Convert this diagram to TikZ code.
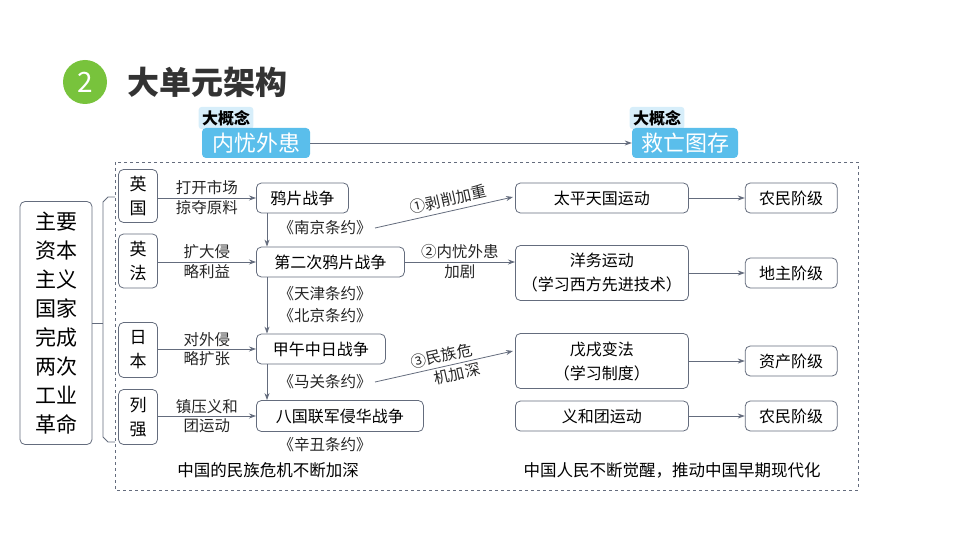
\documentclass[tikz,border=0pt]{standalone}
\usepackage{fontspec}
\setmainfont{Noto Sans CJK SC}
\usetikzlibrary{arrows.meta}
\usetikzlibrary{calc}
\definecolor{linegray}{RGB}{100,108,125}
\definecolor{tagblue}{RGB}{90,190,235}
\definecolor{taglight}{RGB}{215,238,250}
\definecolor{titlegreen}{RGB}{120,195,60}
\begin{document}
\begin{tikzpicture}
	[x=1pt,y=-1pt,
	 box/.style={draw=linegray, rounded corners=5pt, line width=0.8pt, font=\fontsize{16}{19}\selectfont, align=center, inner sep=0pt},
	 lbl/.style={font=\fontsize{15.5}{17}\selectfont, align=center, text=black!85},
	 arr/.style={-{Stealth[length=7pt,width=5pt]}, draw=linegray, line width=0.8pt}]

	\useasboundingbox (0,0) rectangle (960,540);

	%Title
	\node[circle, fill=titlegreen, minimum size=44pt, text=white, font=\fontsize{28}{28}\selectfont] (num) at (85,82) {2};
	\node[anchor=west, font=\fontsize{32}{32}\selectfont\bfseries, text=black!80] (title) at (124,82) {大单元架构};

	%Big concepts
	\node[fill=taglight, rounded corners=3pt, minimum width=48pt, minimum height=21pt, font=\fontsize{16}{16}\selectfont\bfseries] (tagA) at (226,118) {大概念};
	\node[fill=tagblue, rounded corners=4pt, minimum width=108pt, minimum height=30pt, text=white, font=\fontsize{22}{22}\selectfont] (conA) at (256,143) {内忧外患};
	\node[fill=taglight, rounded corners=3pt, minimum width=50pt, minimum height=21pt, font=\fontsize{16}{16}\selectfont\bfseries] (tagB) at (657,118) {大概念};
	\node[fill=tagblue, rounded corners=4pt, minimum width=106pt, minimum height=30pt, text=white, font=\fontsize{22}{22}\selectfont] (conB) at (685,143) {救亡图存};
	\draw[arr] (conA) -- (conB);

	%Frame
	\draw[dashed, linegray, line width=0.6pt] (115,162) rectangle (858,490);

	%Left
	\node[box, minimum width=72pt, minimum height=243pt, font=\fontsize{21}{29}\selectfont] (root) at (56,323) {主要\\资本\\主义\\国家\\完成\\两次\\工业\\革命};
	\draw[linegray, line width=0.8pt] (115,197) -- (108,197) -- (103,202) -- (103,437) -- (108,442) -- (115,442);
	\draw[linegray, line width=0.8pt] (root.east) -- (103,323);

	%Countries
	\foreach \name/\txt/\y/\h in {uk/英\\国/196/53, ukfr/英\\法/261/54, jp/日\\本/350/55, pw/列\\强/417/55}
		\node[box, minimum width=39pt, minimum height=\h pt, font=\fontsize{17}{24}\selectfont] (\name) at (138,\y) {\txt};

	%Wars
	\node[box, minimum width=92pt, minimum height=30pt, anchor=west] (war1) at (256,198) {鸦片战争};
	\node[box, minimum width=148pt, minimum height=30pt, anchor=west] (war2) at (256,262) {第二次鸦片战争};
	\node[box, minimum width=129pt, minimum height=30pt, anchor=west] (war3) at (256,349) {甲午中日战争};
	\node[box, minimum width=167pt, minimum height=31pt, anchor=west] (war4) at (256,416) {八国联军侵华战争};

	\draw[arr] (uk.east |- war1) -- (war1) node[lbl, midway, above=-1pt] {打开市场} node[lbl, midway, below=-1pt] {掠夺原料};
	\draw[arr] (ukfr.east |- war2) -- (war2) node[lbl, midway, above=-1pt] {扩大侵} node[lbl, midway, below=-1pt] {略利益};
	\draw[arr] (jp.east |- war3) -- (war3) node[lbl, midway, above=-1pt] {对外侵} node[lbl, midway, below=-1pt] {略扩张};
	\draw[arr] (pw.east |- war4) -- (war4) node[lbl, midway, above=-1pt] {镇压义和} node[lbl, midway, below=-1pt] {团运动};

	%Treaties
	\draw[arr] ($(war1.south west)+(11,0)$) -- ($(war2.north west)+(11,0)$);
	\draw[arr] ($(war2.south west)+(11,0)$) -- ($(war3.north west)+(11,0)$);
	\draw[arr] ($(war3.south west)+(11,0)$) -- ($(war4.north west)+(11,0)$);
	\node[lbl] (t1) at (325,228) {《南京条约》};
	\node[lbl, font=\fontsize{15.5}{22}\selectfont] (t2) at (325,305) {《天津条约》\\《北京条约》};
	\node[lbl] (t3) at (325,382) {《马关条约》};
	\node[lbl] (t4) at (325,445) {《辛丑条约》};

	%Movements
	\node[box, minimum width=173pt, minimum height=30pt, anchor=west] (mv1) at (515,198) {太平天国运动};
	\node[box, minimum width=173pt, minimum height=55pt, anchor=west, font=\fontsize{16}{24}\selectfont] (mv2) at (515,273) {洋务运动\\（学习西方先进技术）};
	\node[box, minimum width=173pt, minimum height=55pt, anchor=west, font=\fontsize{16}{24}\selectfont] (mv3) at (515,361) {戊戌变法\\（学习制度）};
	\node[box, minimum width=173pt, minimum height=30pt, anchor=west] (mv4) at (515,416) {义和团运动};

	\draw[arr] (t1.east) -- ($(mv1.west)+(-2,-1)$) node[lbl, pos=0.55, above=1pt, sloped] {①剥削加重};
	\draw[arr] (war2.east) -- (war2.east -| mv2.west) node[lbl, midway, above=-1pt] {②内忧外患} node[lbl, midway, below=-1pt] {加剧};
	\draw[arr] (t3.east) -- ($(mv3.west)+(-2,-10)$)
		node[lbl, pos=0.5, above=0pt, sloped] {③民族危}
		node[lbl, pos=0.58, below=-1pt, sloped] {机加深};

	%Classes
	\foreach \src/\name/\txt in {mv1/cls1/农民阶级, mv2/cls2/地主阶级, mv3/cls3/资产阶级, mv4/cls4/农民阶级}{
		\node[box, minimum width=92pt, minimum height=30pt, anchor=west] (\name) at ($(\src.east)+(56,0)$) {\txt};
		\draw[arr] (\src) -- (\name);
	}

	%Bottom
	\node[font=\fontsize{16.5}{16}\selectfont] (sumL) at (268,470) {中国的民族危机不断加深};
	\node[font=\fontsize{16.5}{16}\selectfont] (sumR) at (672,470) {中国人民不断觉醒，推动中国早期现代化};
\end{tikzpicture}
\end{document}
